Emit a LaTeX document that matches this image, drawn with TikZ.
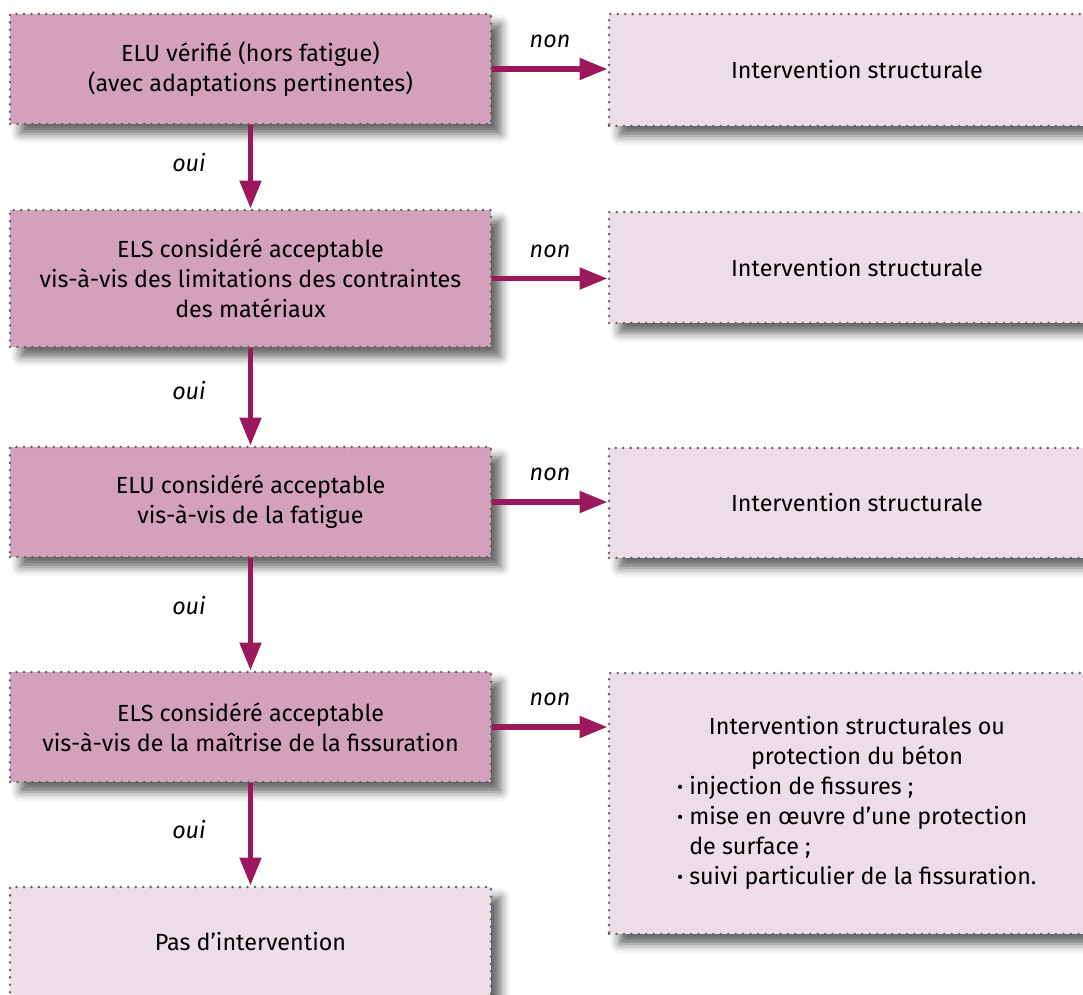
\documentclass[tikz,border=0pt]{standalone}
\usepackage{fontspec}
\setmainfont{Fira Sans}
\usetikzlibrary{arrows.meta,shadows.blur}
\definecolor{boxdark}{RGB}{212,161,189}
\definecolor{boxlight}{RGB}{237,221,230}
\definecolor{arrowplum}{RGB}{155,24,92}
\definecolor{dotgray}{RGB}{100,100,100}
\tikzset{
	boxbase/.style={draw=dotgray, line width=2pt, dash pattern=on 0pt off 5.3pt, line cap=round,
		inner sep=0pt, align=center, font=\fontsize{16.6}{21.3}\selectfont,
		blur shadow={shadow xshift=0.25cm, shadow yshift=-0.25cm, shadow blur radius=0.22cm, shadow opacity=60}},
	askbox/.style={boxbase, fill=boxdark, minimum width=12.025cm},
	endbox/.style={boxbase, fill=boxlight, minimum width=12.025cm},
	outbox/.style={boxbase, fill=boxlight, minimum width=12.4cm},
	flow/.style={arrowplum, line width=0.14cm, -{Triangle[length=0.7cm,width=0.52cm]}},
	answer/.style={font=\fontsize{16.6}{21.3}\selectfont\itshape, text=black, inner sep=0pt}
}
\begin{document}
\begin{tikzpicture}
			\useasboundingbox (0,0) rectangle (27.075,-24.85);
			% questions
			\node[askbox, minimum height=2.75cm] (elu) at (6.2625,-1.725) {ELU vérifié (hors fatigue)\\(avec adaptations pertinentes)};
			\node[askbox, minimum height=3.425cm] (els) at (6.2625,-6.9625) {ELS considéré acceptable\\vis-à-vis des limitations des contraintes\\des matériaux};
			\node[askbox, minimum height=2.75cm] (fat) at (6.2625,-12.55) {ELU considéré acceptable\\vis-à-vis de la fatigue};
			\node[askbox, minimum height=2.75cm] (fis) at (6.2625,-18.175) {ELS considéré acceptable\\vis-à-vis de la maîtrise de la fissuration};
			\node[endbox, minimum height=2.75cm] (rien) at (6.2625,-23.55) {Pas d’intervention};
			% interventions
			\node[outbox, minimum height=2.8cm] (int1) at (21.425,-1.75) {Intervention structurale};
			\node[outbox, minimum height=2.775cm] (int2) at (21.425,-6.6875) {Intervention structurale};
			\node[outbox, minimum height=2.75cm] (int3) at (21.425,-12.575) {Intervention structurale};
			\node[outbox, minimum height=6.525cm] (int4) at (21.425,-20.0875) {\begin{tabular}{@{}l@{}}
				\multicolumn{1}{@{}c@{}}{Intervention structurales ou}\\
				\multicolumn{1}{@{}c@{}}{protection du béton}\\
				{\bfseries·} injection de fissures ;\\
				{\bfseries·} mise en œuvre d’une protection\\
				\phantom{· }de surface ;\\
				{\bfseries·} suivi particulier de la fissuration.
			\end{tabular}};
			% oui
			\draw[flow] (elu) -- node[answer, pos=0.45, left=1.05cm] {oui} (els);
			\draw[flow] (els) -- node[answer, pos=0.43, left=1.05cm] {oui} (fat);
			\draw[flow] (fat) -- node[answer, pos=0.42, left=1.05cm] {oui} (fis);
			\draw[flow] (fis) -- node[answer, pos=0.45, left=1.05cm] {oui} (rien);
			% non
			\draw[flow] (elu.east) -- node[answer, above=0.45cm] {non} (elu.east -| int1.west);
			\draw[flow] (els.east) -- node[answer, above=0.45cm] {non} (els.east -| int2.west);
			\draw[flow] (fat.east) -- node[answer, above=0.45cm] {non} (fat.east -| int3.west);
			\draw[flow] (fis.east) -- node[answer, above=0.45cm] {non} (fis.east -| int4.west);
		\end{tikzpicture}
\end{document}
